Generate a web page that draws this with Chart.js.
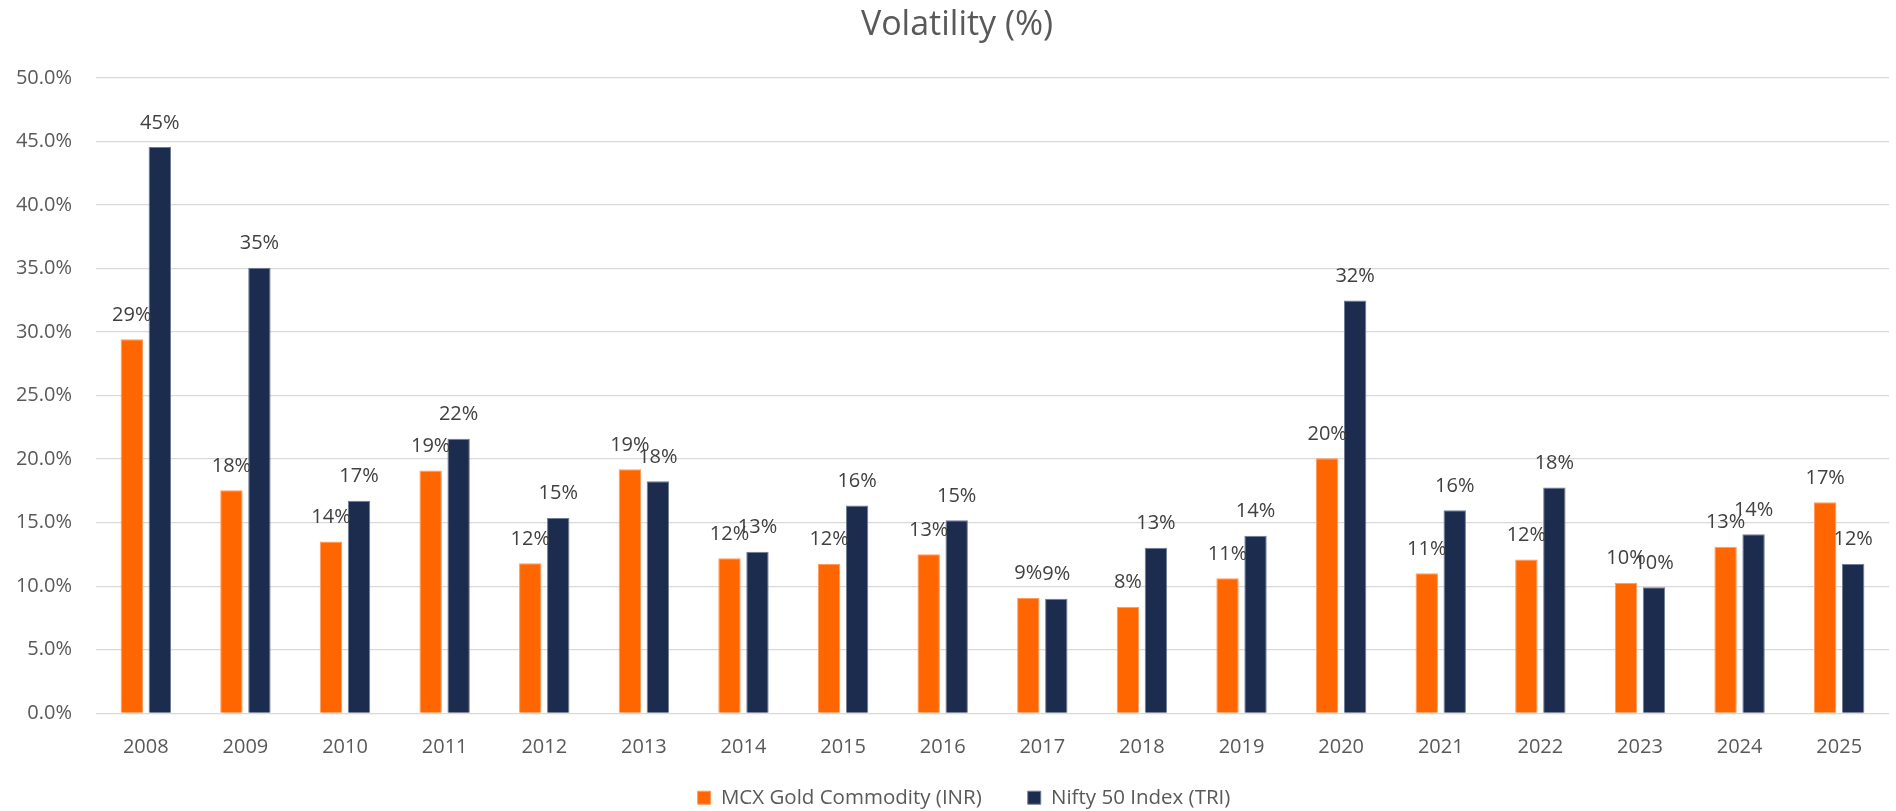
<!DOCTYPE html>
<html lang="en">
<head>
  <meta charset="UTF-8" />
  <title>Volatility (%)</title>
  <script src="https://cdn.jsdelivr.net/npm/chart.js"></script>
  <style>
    body {
      margin: 0;
      padding: 0;
      background: #fff;
    }
    #wrap {
      width: 1896px;
      height: 811px;
    }
  </style>
</head>
<body>
  <div id="wrap"><canvas id="volChart"></canvas></div>

  <script>
    // ---- data ----
    const years = ['2008', '2009', '2010', '2011', '2012', '2013', '2014', '2015', '2016',
                   '2017', '2018', '2019', '2020', '2021', '2022', '2023', '2024', '2025'];
    const goldVol = [29.43, 17.55, 13.52, 19.1, 11.8, 19.2, 12.2, 11.75, 12.51,
                     9.08, 8.39, 10.62, 20.07, 11.02, 12.1, 10.28, 13.11, 16.61];
    const niftyVol = [44.55, 35.05, 16.73, 21.6, 15.37, 18.26, 12.72, 16.34, 15.19,
                      9.02, 13.03, 13.96, 32.48, 15.98, 17.77, 9.92, 14.09, 11.75];
    const yTicks = { min: 0, max: 50, step: 5 };

    const FONT = "'Open Sans', 'Noto Sans', sans-serif";
    const LEGEND_SIZE = 20.5;
    const LEGEND_GAP = 46;

    // value labels above each bar
    const barLabels = {
      id: 'barLabels',
      afterDatasetsDraw(chart) {
        const ctx = chart.ctx;
        ctx.save();
        ctx.font = '20px ' + FONT;
        ctx.fillStyle = '#404040';
        ctx.textAlign = 'center';
        ctx.textBaseline = 'alphabetic';
        chart.data.datasets.forEach((ds, i) => {
          chart.getDatasetMeta(i).data.forEach((bar, j) => {
            ctx.fillText(Math.round(ds.data[j]) + '%', bar.x, bar.y - 18.5);
          });
        });
        ctx.restore();
      }
    };

    // move the legend and title to where the original has them
    const boxPlace = {
      id: 'boxPlace',
      beforeDraw(chart) {
        const lg = chart.legend;
        if (lg) {
          const w = lg.right - lg.left;
          lg.left = 964 - w / 2;
          lg.right = lg.left + w;
          lg.top = 797.7 - LEGEND_GAP - LEGEND_SIZE / 2;
          lg.bottom = chart.height;
        }
        const tb = chart.titleBlock;
        if (tb) {
          const w = tb.right - tb.left;
          tb.left = 957 - w / 2;
          tb.right = tb.left + w;
        }
      }
    };

    const chart = new Chart(document.getElementById('volChart'), {
      type: 'bar',
      data: {
        labels: years,
        datasets: [
          {
            label: 'MCX Gold Commodity (INR)',
            data: goldVol,
            backgroundColor: '#FF6600',
            borderColor: '#FF9B5E',
            borderWidth: 1,
            categoryPercentage: 0.562,
            barPercentage: 0.8
          },
          {
            label: 'Nifty 50 Index (TRI)',
            data: niftyVol,
            backgroundColor: '#1B2C4E',
            borderColor: '#6F7D96',
            borderWidth: 1,
            categoryPercentage: 0.562,
            barPercentage: 0.8
          }
        ]
      },
      options: {
        responsive: true,
        maintainAspectRatio: false,
        animation: false,
        layout: { padding: { left: 0, right: 7, top: 0, bottom: 0 } },
        plugins: {
          title: {
            display: true,
            text: 'Volatility (%)',
            color: '#595959',
            font: { family: FONT, size: 34, weight: 'normal' },
            padding: { top: 5, bottom: 32 }
          },
          legend: {
            display: true,
            position: 'bottom',
            maxHeight: 20,
            labels: {
              boxWidth: 13,
              boxHeight: 13,
              padding: LEGEND_GAP,
              color: '#595959',
              font: { family: FONT, size: LEGEND_SIZE }
            }
          },
          tooltip: { enabled: false }
        },
        scales: {
          x: {
            grid: { display: false },
            border: { display: false },
            ticks: { color: '#595959', padding: 14, font: { family: FONT, size: 20 } },
            afterFit(scale) {
              scale.height = 811 - 713.3 - scale.chart.legend.height;
            }
          },
          y: {
            min: yTicks.min,
            max: yTicks.max,
            border: { display: false },
            grid: { color: '#D9D9D9', lineWidth: 1.3, drawTicks: false },
            ticks: {
              stepSize: yTicks.step,
              color: '#595959',
              padding: 24,
              font: { family: FONT, size: 20 },
              callback: v => v.toFixed(1) + '%'
            },
            afterFit(scale) {
              scale.width = 96;
            }
          }
        }
      },
      plugins: [barLabels, boxPlace]
    });
  </script>
</body>
</html>
